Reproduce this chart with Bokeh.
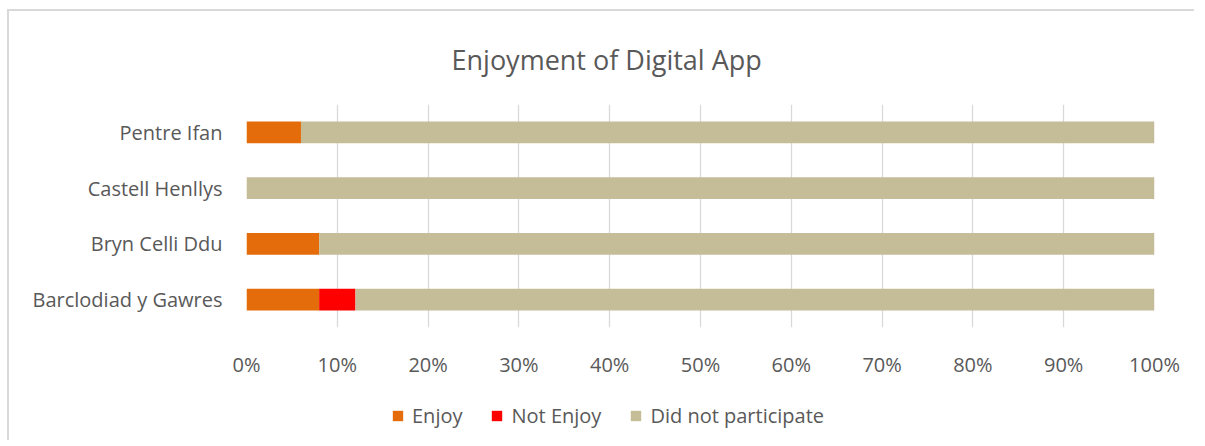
from bokeh.plotting import figure
from bokeh.layouts import column
from bokeh.models import (Range1d, FactorRange, FixedTicker, NumeralTickFormatter,
                          Legend, LegendItem, ColumnDataSource)
from bokeh.embed import file_html
from bokeh.resources import INLINE

sites = ["Barclodiad y Gawres", "Bryn Celli Ddu", "Castell Henllys", "Pentre Ifan"]
enjoy = [0.08, 0.08, 0.0, 0.06]
not_enjoy = [0.04, 0.0, 0.0, 0.0]
did_not = [0.88, 0.92, 1.0, 0.94]
series = ["Enjoy", "Not Enjoy", "Did not participate"]
colors = ["#E46C0A", "#FF0000", "#C4BD97"]
ticks = [i / 10 for i in range(11)]
title_text = "Enjoyment of Digital App"

FONT = "Open Sans"
TXT = "#595959"

src = ColumnDataSource(dict(site=sites, Enjoy=enjoy, NotEnjoy=not_enjoy, Did=did_not))

W, H = 1185, 369
p = figure(width=W, height=H, output_backend="svg", toolbar_location=None,
           x_range=Range1d(0, 1), y_range=FactorRange(*sites),
           min_border_left=237, min_border_right=40, min_border_top=91,
           min_border_bottom=50, title=title_text)
p.outline_line_color = None
p.background_fill_color = "white"

p.title.text_font = FONT
p.title.text_font_size = "27px"
p.title.text_color = TXT
p.title.text_font_style = "normal"
p.title.align = "left"
p.title.offset = 205
p.title.standoff = 54

p.hbar_stack(["Enjoy", "NotEnjoy", "Did"], y="site", height=0.39, color=colors,
             source=src, line_color=None)

p.xaxis.ticker = FixedTicker(ticks=ticks)
p.xaxis.formatter = NumeralTickFormatter(format="0%")
for ax in (p.xaxis, p.yaxis):
    ax.axis_line_color = None
    ax.major_tick_line_color = None
    ax.minor_tick_line_color = None
    ax.major_tick_out = 0
    ax.major_tick_in = 0
    ax.major_label_text_font = FONT
    ax.major_label_text_font_size = "20px"
    ax.major_label_text_color = TXT
p.xaxis.major_label_standoff = 23
p.yaxis.major_label_standoff = 24

p.xgrid.grid_line_color = "#d9d9d9"
p.xgrid.grid_line_width = 1.3
p.ygrid.grid_line_color = None

# legend strip: same series with zero-height bars outside the visible x range,
# so only the legend keys are shown
p2 = figure(width=W, height=60, output_backend="svg", toolbar_location=None,
            x_range=Range1d(5, 6), y_range=FactorRange(*sites),
            x_axis_location=None, y_axis_location=None, min_border=0)
p2.outline_line_color = None
p2.grid.visible = False
rs = p2.hbar_stack(["Enjoy", "NotEnjoy", "Did"], y="site", height=0, color=colors,
                   source=src, line_color=None)

legend = Legend(items=[LegendItem(label=s, renderers=[r]) for s, r in zip(series, rs)],
                orientation="horizontal", location=(145, 11),
                label_text_font=FONT, label_text_font_size="20px",
                label_text_color=TXT, glyph_width=13, glyph_height=13,
                label_standoff=8, spacing=28, border_line_color=None,
                background_fill_alpha=0, margin=0, padding=0)
p2.add_layout(legend)

layout = column(p, p2, spacing=0,
                styles={"border-left": "2px solid #d9d9d9",
                        "border-top": "2px solid #d9d9d9",
                        "margin-left": "7px", "margin-top": "9px"})

open("out.html", "w").write(file_html(layout, INLINE))
